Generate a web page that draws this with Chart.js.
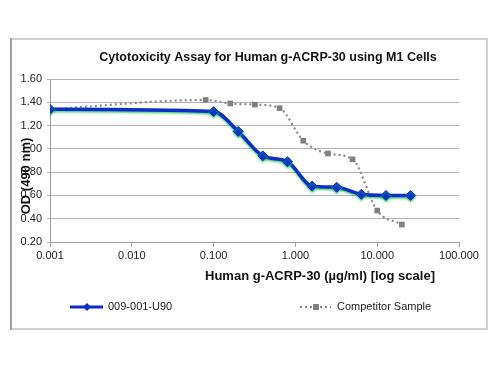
<!DOCTYPE html>
<html>
<head>
<meta charset="utf-8">
<title>Cytotoxicity Assay</title>
<script src="https://cdn.jsdelivr.net/npm/chart.js@4"></script>
<style>
  html, body { margin: 0; padding: 0; background: #fff; }
  #wrap { position: relative; width: 500px; height: 375px; }
</style>
</head>
<body>
<div id="wrap"><canvas id="chart" width="500" height="375"></canvas></div>
<script>
// 009-001-U90 dilution series
const sampleDoses = [0.001, 0.1, 0.2, 0.4, 0.8, 1.6, 3.2, 6.4, 12.8, 25.6];
const sampleOD = [1.34, 1.32, 1.15, 0.94, 0.89, 0.68, 0.67, 0.61, 0.60, 0.60];

// Competitor sample
const competitorDoses = [0.001, 0.08, 0.16, 0.32, 0.64, 1.25, 2.5, 5, 10, 20];
const competitorOD = [1.34, 1.42, 1.39, 1.38, 1.35, 1.07, 0.96, 0.91, 0.47, 0.35];

const xTickValues = [0.001, 0.01, 0.1, 1, 10, 100];
const yTickValues = [0.2, 0.4, 0.6, 0.8, 1.0, 1.2, 1.4, 1.6];

const seriesNames = ["009-001-U90", "Competitor Sample"];
const chartTitle = "Cytotoxicity Assay for Human g-ACRP-30 using M1 Cells";
const xTitle = "Human g-ACRP-30 (\u00b5g/ml) [log scale]";
const yTitle = "OD (490 nm)";

const FONT = "'Liberation Sans', Arial, sans-serif";
const BLUE = "#0b2fc8";
const GRAY = "#8a8a8a";

const toPoints = (xs, ys) => xs.map((x, i) => ({ x, y: ys[i] }));

// green glow under the main series, like the Excel effect
const glowPlugin = {
  id: "glow",
  beforeDatasetDraw(chart, args) {
    if (args.meta.label !== seriesNames[0]) return;
    const ctx = chart.ctx;
    ctx.save();
    ctx.shadowColor = "rgba(40, 200, 90, 0.8)";
    ctx.shadowOffsetY = 1.5;
    ctx.shadowBlur = 2;
  },
  afterDatasetDraw(chart, args) {
    if (args.meta.label !== seriesNames[0]) return;
    chart.ctx.restore();
  },
};

// frame, titles and legend
const decorPlugin = {
  id: "decor",
  afterDraw(chart) {
    const ctx = chart.ctx;
    ctx.save();

    // outer frame
    ctx.lineWidth = 2;
    ctx.strokeStyle = "#d0d0d0";
    ctx.beginPath();
    ctx.moveTo(11, 39);
    ctx.lineTo(487, 39);
    ctx.lineTo(487, 329);
    ctx.lineTo(11, 329);
    ctx.stroke();
    ctx.strokeStyle = "#a0a0a0";
    ctx.beginPath();
    ctx.moveTo(11, 38);
    ctx.lineTo(11, 330);
    ctx.stroke();

    // chart title
    ctx.fillStyle = "#111";
    ctx.font = "bold 12.5px " + FONT;
    ctx.textAlign = "center";
    ctx.textBaseline = "middle";
    ctx.fillText(chartTitle, 268, 58);

    // x axis title
    ctx.font = "bold 13px " + FONT;
    ctx.fillText(xTitle, 320, 276);

    // y axis title (overlaps tick labels as in the original)
    ctx.save();
    ctx.translate(26, 176);
    ctx.rotate(-Math.PI / 2);
    ctx.font = "bold 13px " + FONT;
    ctx.fillText(yTitle, 0, 0);
    ctx.restore();

    // legend
    const ly = 307;
    ctx.font = "11px " + FONT;
    ctx.textAlign = "left";

    ctx.strokeStyle = BLUE;
    ctx.lineWidth = 3;
    ctx.beginPath();
    ctx.moveTo(70, ly);
    ctx.lineTo(103, ly);
    ctx.stroke();
    ctx.fillStyle = BLUE;
    ctx.beginPath();
    ctx.moveTo(87, ly - 4);
    ctx.lineTo(91, ly);
    ctx.lineTo(87, ly + 4);
    ctx.lineTo(83, ly);
    ctx.closePath();
    ctx.fill();
    ctx.fillStyle = "#222";
    ctx.fillText(seriesNames[0], 108, ly);

    ctx.strokeStyle = GRAY;
    ctx.lineWidth = 2;
    ctx.setLineDash([2, 3]);
    ctx.beginPath();
    ctx.moveTo(300, ly);
    ctx.lineTo(331, ly);
    ctx.stroke();
    ctx.setLineDash([]);
    ctx.fillStyle = "#808080";
    ctx.fillRect(313, ly - 3, 6, 6);
    ctx.fillStyle = "#222";
    ctx.fillText(seriesNames[1], 337, ly);

    ctx.restore();
  },
};

new Chart(document.getElementById("chart"), {
  type: "scatter",
  data: {
    datasets: [
      {
        label: seriesNames[1],
        data: toPoints(competitorDoses, competitorOD),
        showLine: true,
        borderColor: GRAY,
        borderWidth: 2.2,
        borderDash: [2, 3],
        cubicInterpolationMode: "monotone",
        pointStyle: "rect",
        pointRadius: 4,
        pointBackgroundColor: "#808080",
        pointBorderColor: "#808080",
        pointBorderWidth: 0,
        order: 2,
      },
      {
        label: seriesNames[0],
        data: toPoints(sampleDoses, sampleOD),
        showLine: true,
        borderColor: BLUE,
        borderWidth: 3.5,
        cubicInterpolationMode: "monotone",
        pointStyle: "rectRot",
        pointRadius: 5,
        pointBackgroundColor: BLUE,
        pointBorderColor: BLUE,
        pointBorderWidth: 1,
        order: 1,
      },
    ],
  },
  options: {
    responsive: false,
    animation: false,
    events: [],
    layout: { padding: { top: 79, right: 41, left: 0, bottom: 0 } },
    plugins: {
      legend: { display: false },
      tooltip: { enabled: false },
    },
    scales: {
      x: {
        type: "logarithmic",
        min: 0.001,
        max: 100,
        afterBuildTicks: (scale) => {
          scale.ticks = xTickValues.map((v) => ({ value: v }));
        },
        afterFit: (scale) => {
          scale.height = 375 - 242;
        },
        ticks: {
          callback: (v) => Number(v).toFixed(3),
          font: { family: FONT, size: 11 },
          color: "#222",
          padding: 2,
          maxRotation: 0,
          autoSkip: false,
        },
        grid: { drawOnChartArea: false, tickLength: 5, color: "#a0a0a0" },
        border: { color: "#a0a0a0" },
      },
      y: {
        min: 0.2,
        max: 1.6,
        afterBuildTicks: (scale) => {
          scale.ticks = yTickValues.map((v) => ({ value: v }));
        },
        afterFit: (scale) => {
          scale.width = 50;
        },
        ticks: {
          callback: (v) => Number(v).toFixed(2),
          font: { family: FONT, size: 11 },
          color: "#222",
          padding: 5,
        },
        grid: { color: "#b4b4b4", tickLength: 3 },
        border: { color: "#a0a0a0" },
      },
    },
  },
  plugins: [glowPlugin, decorPlugin],
});
</script>
</body>
</html>
